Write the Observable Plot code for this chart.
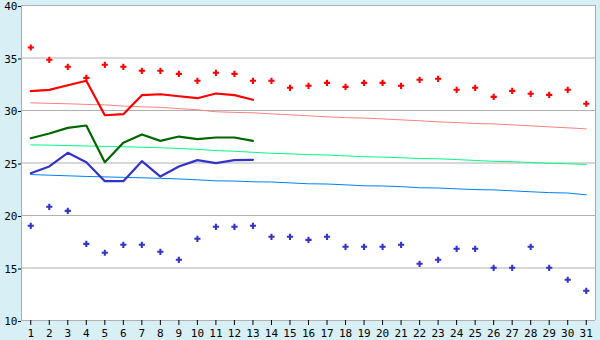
<!DOCTYPE html>
<html>
<head>
<meta charset="utf-8">
<script src="https://cdn.jsdelivr.net/npm/d3@7"></script>
<script src="https://cdn.jsdelivr.net/npm/@observablehq/plot@0.6"></script>
<style>
  html, body { margin: 0; padding: 0; background: #d9eff6; }
  #chart svg { display: block; }
</style>
</head>
<body>
<div id="chart"></div>
<script>
const days = d3.range(1, 32);
const yTicks = [10, 15, 20, 25, 30, 35, 40];

// Record highs / lows (dots)
const recordHigh = [36.0, 34.83, 34.16, 33.11, 34.35, 34.16, 33.78, 33.78, 33.49, 32.83,
  33.59, 33.49, 32.83, 32.83, 32.16, 32.35, 32.63, 32.25, 32.63, 32.63, 32.35,
  32.92, 33.02, 31.97, 32.16, 31.3, 31.87, 31.59, 31.49, 31.97, 30.64];
const recordLow = [19.02, 20.83, 20.44, 17.3, 16.45, 17.21, 17.21, 16.54, 15.78, 17.78,
  18.92, 18.92, 19.02, 17.97, 17.97, 17.68, 17.97, 17.02, 17.02, 17.02, 17.21,
  15.4, 15.78, 16.83, 16.83, 15.02, 15.02, 17.02, 15.02, 13.88, 12.83];

// Normals (thin lines)
const normalHigh = [30.73, 30.68, 30.64, 30.58, 30.54, 30.42, 30.35, 30.30, 30.18, 30.07,
  29.88, 29.82, 29.78, 29.68, 29.59, 29.49, 29.40, 29.32, 29.28, 29.20, 29.11,
  29.02, 28.92, 28.85, 28.76, 28.72, 28.63, 28.54, 28.44, 28.35, 28.25];
const normalMean = [26.73, 26.70, 26.66, 26.62, 26.58, 26.55, 26.50, 26.45, 26.38, 26.30,
  26.18, 26.12, 26.02, 25.92, 25.87, 25.80, 25.76, 25.68, 25.60, 25.56, 25.50,
  25.43, 25.40, 25.33, 25.24, 25.16, 25.12, 25.05, 24.97, 24.93, 24.86];
const normalLow = [23.9, 23.84, 23.78, 23.72, 23.68, 23.63, 23.59, 23.54, 23.48, 23.40,
  23.30, 23.28, 23.21, 23.19, 23.11, 23.02, 23.0, 22.92, 22.83, 22.81, 22.75,
  22.64, 22.62, 22.54, 22.47, 22.44, 22.35, 22.26, 22.18, 22.14, 21.97];

// Observed (thick lines, days 1-13)
const obsHigh = [31.84, 31.97, 32.41, 32.83, 29.55, 29.65, 31.46, 31.55, 31.36, 31.17, 31.62, 31.46, 31.02];
const obsMean = [27.36, 27.81, 28.35, 28.57, 25.08, 26.92, 27.71, 27.11, 27.52, 27.27, 27.43, 27.43, 27.11];
const obsLow  = [24.03, 24.67, 25.97, 25.08, 23.27, 23.27, 25.17, 23.71, 24.67, 25.27, 24.98, 25.27, 25.30];

const series = (vals) => vals.map((v, i) => ({day: days[i], v}));

const font = "DejaVu Sans Mono, monospace";

const chart = Plot.plot({
  width: 600,
  height: 340,
  marginLeft: 21,
  marginRight: 5,
  marginTop: 5,
  marginBottom: 20,
  style: {background: "#d9eff6", fontFamily: font, fontSize: "11px", color: "black", overflow: "visible"},
  x: {domain: [0.5, 31.5]},
  y: {domain: [10, 40]},
  marks: [
    Plot.frame({fill: "white", stroke: null}),
    Plot.ruleY(yTicks, {stroke: "#b0b0b0", strokeWidth: 1}),
    Plot.ruleX([0.5, 31.5], {stroke: "#aaaaaa"}),
    Plot.line(series(normalHigh), {x: "day", y: "v", stroke: "#ff8080", strokeWidth: 1}),
    Plot.line(series(normalMean), {x: "day", y: "v", stroke: "#00ff80", strokeWidth: 1}),
    Plot.line(series(normalLow), {x: "day", y: "v", stroke: "#0080ff", strokeWidth: 1}),
    Plot.line(series(obsHigh), {x: "day", y: "v", stroke: "#ff0000", strokeWidth: 2.2}),
    Plot.line(series(obsMean), {x: "day", y: "v", stroke: "#006600", strokeWidth: 2.2}),
    Plot.line(series(obsLow), {x: "day", y: "v", stroke: "#3333cc", strokeWidth: 2.2}),
    Plot.dot(series(recordHigh), {x: "day", y: "v", symbol: "cross", r: 2.6, fill: "#ff0000", stroke: null}),
    Plot.dot(series(recordLow), {x: "day", y: "v", symbol: "cross", r: 2.6, fill: "#3333cc", stroke: null}),
    Plot.axisX({ticks: days, tickSize: 5, tickPadding: 4, label: null, tickFormat: d => String(d), stroke: "black"}),
    Plot.axisY({ticks: yTicks, tickSize: 3, tickPadding: 1, dy: 1, label: null, tickFormat: d => String(d), stroke: "black"})
  ]
});
document.getElementById("chart").appendChild(chart);
</script>
</body>
</html>
